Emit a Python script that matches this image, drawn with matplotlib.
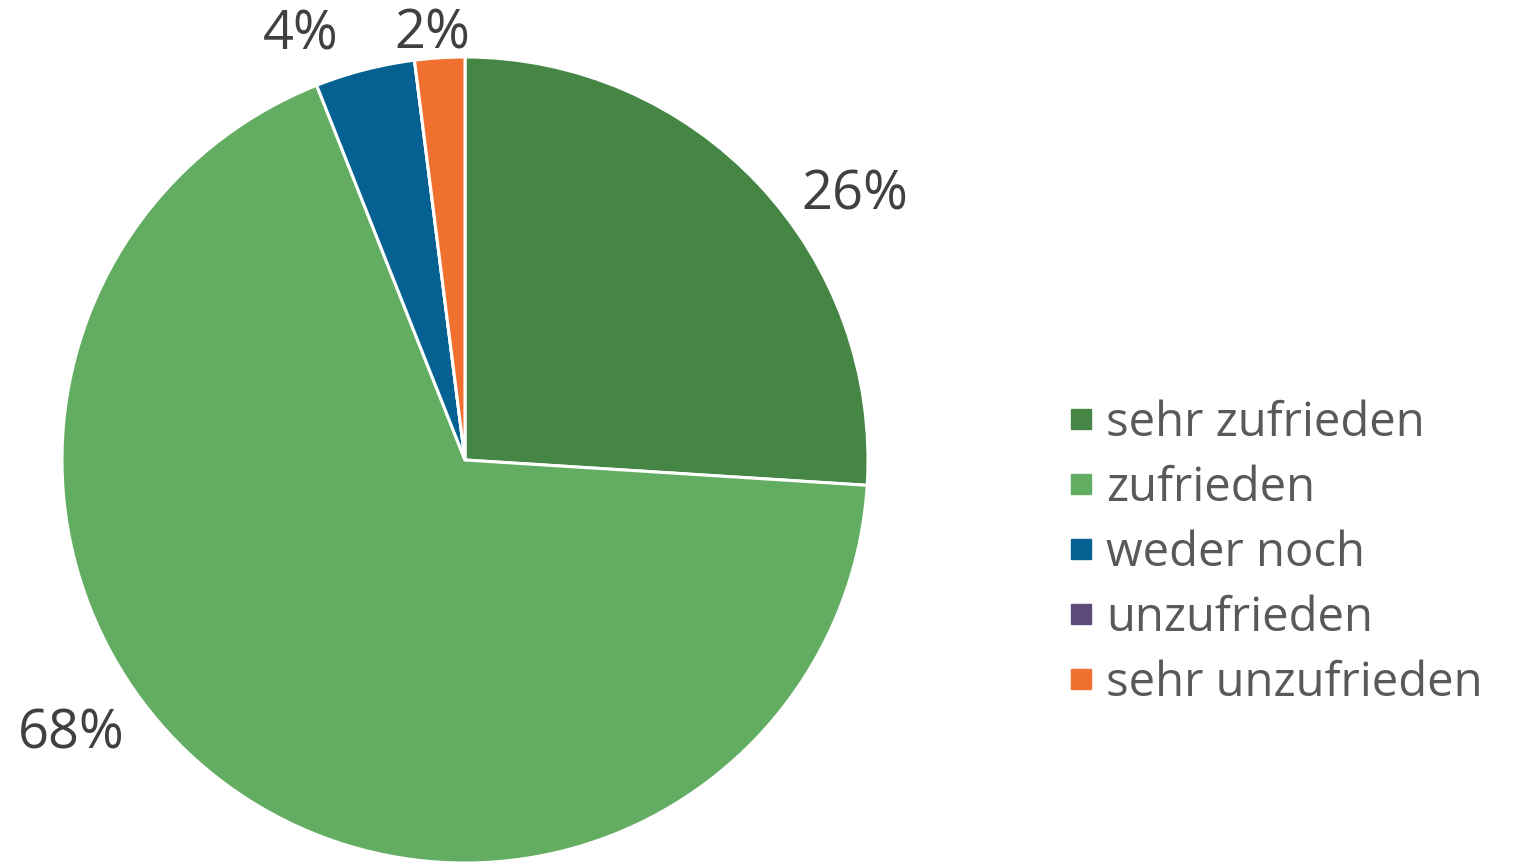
import numpy as np
import matplotlib.pyplot as plt
from matplotlib.lines import Line2D

# data
categories = ['sehr zufrieden', 'zufrieden', 'weder noch', 'unzufrieden', 'sehr unzufrieden']
shares = [26, 68, 4, 0, 2]
colors = ['#458645', '#62AD62', '#056192', '#5E4A7C', '#F07030']

# label placement (angle in degrees, radius relative to pie radius), like the original
label_pos = [(34.2, 1.17), (214.8, 1.19), (111.2, 1.13), None, (94.4, 1.06)]

plt.rcParams['font.family'] = ['Open Sans', 'DejaVu Sans']

fig = plt.figure(figsize=(15.33, 8.63), dpi=100)
ax = fig.add_axes([62/1533, 0, 806/1533, 806/863])

wedges, texts = ax.pie(shares, colors=colors, startangle=90, counterclock=False,
                       radius=1, wedgeprops=dict(edgecolor='white', linewidth=2.2))
ax.set_xlim(-1, 1)
ax.set_ylim(-1, 1)
ax.set_aspect('equal')
ax.axis('off')

for v, pos in zip(shares, label_pos):
    if v == 0 or pos is None:
        continue
    a = np.deg2rad(pos[0])
    ax.text(pos[1]*np.cos(a), pos[1]*np.sin(a), '%d%%' % v, ha='center', va='center',
            fontsize=39, color='#404040', clip_on=False)

handles = [Line2D([], [], marker='s', linestyle='none', markersize=14,
                  markerfacecolor=c, markeredgecolor=c) for c in colors]
leg = fig.legend(handles, categories, loc='center left', bbox_to_anchor=(1046/1533, 1-553/863),
                 frameon=False, fontsize=34, labelcolor='#595959', handlelength=0.47,
                 handletextpad=0.3, labelspacing=0.37, borderpad=0)

fig.savefig('out.png', dpi=100)
